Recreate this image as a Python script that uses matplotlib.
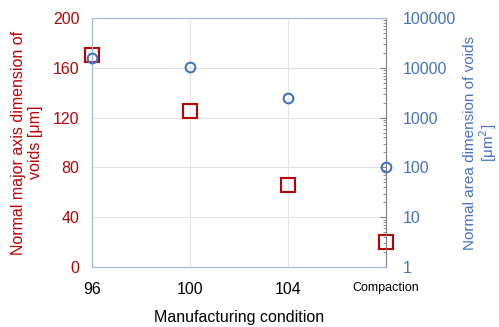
import matplotlib.pyplot as plt
import numpy as np

plt.rcParams["font.family"] = ["Liberation Sans", "DejaVu Sans"]

# manufacturing conditions and void measurements
conditions = ["96", "100", "104", "Compaction"]
x_pos = [96, 100, 104, 108]
major_axis = [170, 125, 66, 20]          # µm
area = [16000, 10500, 2500, 100]         # µm²

RED = "#C00000"
BLUE = "#4472C4"
FRAME = "#A9BCE0"
FS = 11.5

fig = plt.figure(figsize=(4.99, 3.27), dpi=100)
ax = fig.add_axes([0.184, 0.183, 0.590, 0.762])
ax2 = ax.twinx()

ax.plot(x_pos, major_axis, "s", ms=10, mfc="none", mec=RED, mew=1.5,
        zorder=3, clip_on=False)
ax2.plot(x_pos, area, "o", ms=7, mfc="none", mec=BLUE, mew=1.5,
         zorder=3, clip_on=False)

ax.set_xlim(96, 108)
ax.set_ylim(0, 200)
ax.set_yticks(np.arange(0, 201, 40))
ax.set_xticks(x_pos)
ax.set_xticklabels(conditions, fontsize=FS)
ax.get_xticklabels()[-1].set_fontsize(9)
ax.tick_params(axis="x", length=0, pad=11)
ax.tick_params(axis="y", length=0, labelcolor=RED, labelsize=FS, pad=9)
ax.grid(True, color="#E3E3E3", lw=0.8)
ax.set_axisbelow(True)

ax2.set_yscale("log")
ax2.set_ylim(1, 100000)
ax2.set_yticks([1, 10, 100, 1000, 10000, 100000])
ax2.set_yticklabels(["1", "10", "100", "1000", "10000", "100000"])
ax2.tick_params(axis="y", which="major", direction="in", length=4,
                color="#808080", labelcolor=BLUE, labelsize=FS, pad=12)
ax2.tick_params(axis="y", which="minor", direction="in", length=2,
                color="#808080")

for side in ["left", "top", "bottom"]:
    ax.spines[side].set_color(FRAME)
    ax2.spines[side].set_color(FRAME)
ax.spines["right"].set_visible(False)
ax2.spines["right"].set_color("#808080")

ax.set_xlabel("Manufacturing condition", fontsize=FS, labelpad=9)
ax.set_ylabel("Normal major axis dimension of\nvoids [\u03bcm]",
              color=RED, fontsize=FS, labelpad=7)
ax2.set_ylabel("Normal area dimension of voids\n[\u03bcm$^2$]",
               color=BLUE, fontsize=11, labelpad=5, linespacing=1.0)

fig.savefig("out.png", dpi=100)
